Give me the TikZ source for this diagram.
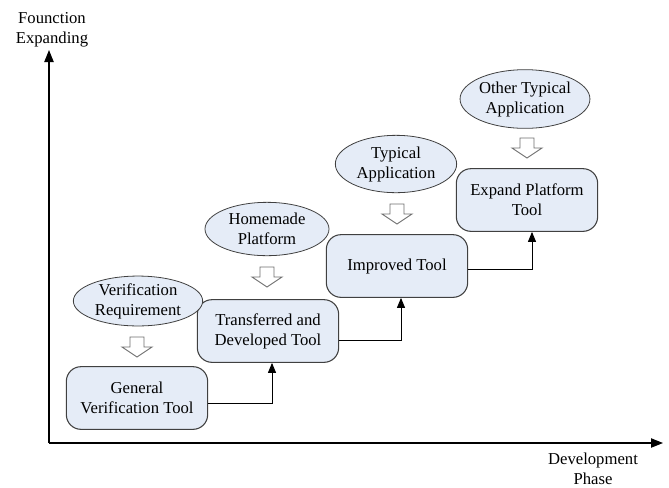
\documentclass[tikz,border=0pt]{standalone}
\usepackage{fontspec}
\setmainfont{Liberation Serif}
\usetikzlibrary{arrows.meta,shapes.geometric}
\definecolor{boxfill}{RGB}{229,236,247}
\definecolor{boxline}{RGB}{64,64,64}
\definecolor{hollowline}{RGB}{110,110,110}
\tikzset{
  txt/.style={font=\rmfamily\fontsize{12.5}{15}\selectfont, align=center, text=black},
  toolbox/.style={txt, draw=boxline, line width=0.8pt, fill=boxfill,
    rounded corners=11pt, minimum width=106pt, minimum height=47pt, inner sep=2pt},
  need/.style={txt, draw=boxline, line width=0.6pt, fill=boxfill, ellipse,
    minimum width=95pt, minimum height=38pt, inner sep=0pt},
  link/.style={line width=0.7pt, -{Triangle[length=7.5pt,width=6pt]}},
  axis/.style={line width=0.8pt, -{Triangle[length=9pt,width=7pt]}},
  hollow/.style={draw=hollowline, fill=white, line width=0.7pt, line join=miter},
  pics/downarrow/.style={code={
    \path[hollow] (-7,-10) -- (7,-10) -- (7,0) -- (15,0) -- (0,10) -- (-15,0)
      -- (-7,0) -- cycle;}}
}
\begin{document}
\begin{tikzpicture}[x=0.75pt, y=-0.75pt]
\useasboundingbox (0,0) rectangle (669,487);

% axes
\coordinate (origin) at (49,443);
\coordinate (ytip) at (49,50);
\coordinate (xtip) at (663,443);
\draw[axis] (origin) -- (ytip);
\draw[axis] (origin) -- (xtip);
\node[txt] (ylabel) at (52,30) {Founction\\Expanding};
\node[txt] (xlabel) at (593,469) {Development\\Phase};

% development stages
\node[toolbox] (general) at (137,398) {General\\Verification Tool};
\node[toolbox] (transfer) at (268,331) {Transferred and\\Developed Tool};
\node[toolbox] (improved) at (397,266) {Improved Tool};
\node[toolbox] (expand) at (527,200) {Expand Platform\\Tool};

% driving needs
\node[need, minimum width=97pt, minimum height=36pt] (verreq) at (138,301) {Verification\\Requirement};
\node[need, minimum width=93pt, minimum height=40pt] (homemade) at (267,229) {Homemade\\Platform};
\node[need, minimum width=91pt, minimum height=43pt] (typical) at (396,164) {Typical\\Application};
\node[need, minimum width=94pt, minimum height=44pt] (other) at (525,99) {Other Typical\\Application};

% hollow arrows from needs to stages
\pic at (137,347) {downarrow};
\pic at (267,277) {downarrow};
\pic at (397,214) {downarrow};
\pic at (527,148) {downarrow};

% stage transitions
\draw[link] ([yshift=-3.75pt]general.east) -| ([xshift=3pt]transfer.south);
\draw[link] ([yshift=-6.75pt]transfer.east) -| ([xshift=3pt]improved.south);
\draw[link] ([yshift=-2.25pt]improved.east) -| ([xshift=3.75pt]expand.south);
\end{tikzpicture}
\end{document}
